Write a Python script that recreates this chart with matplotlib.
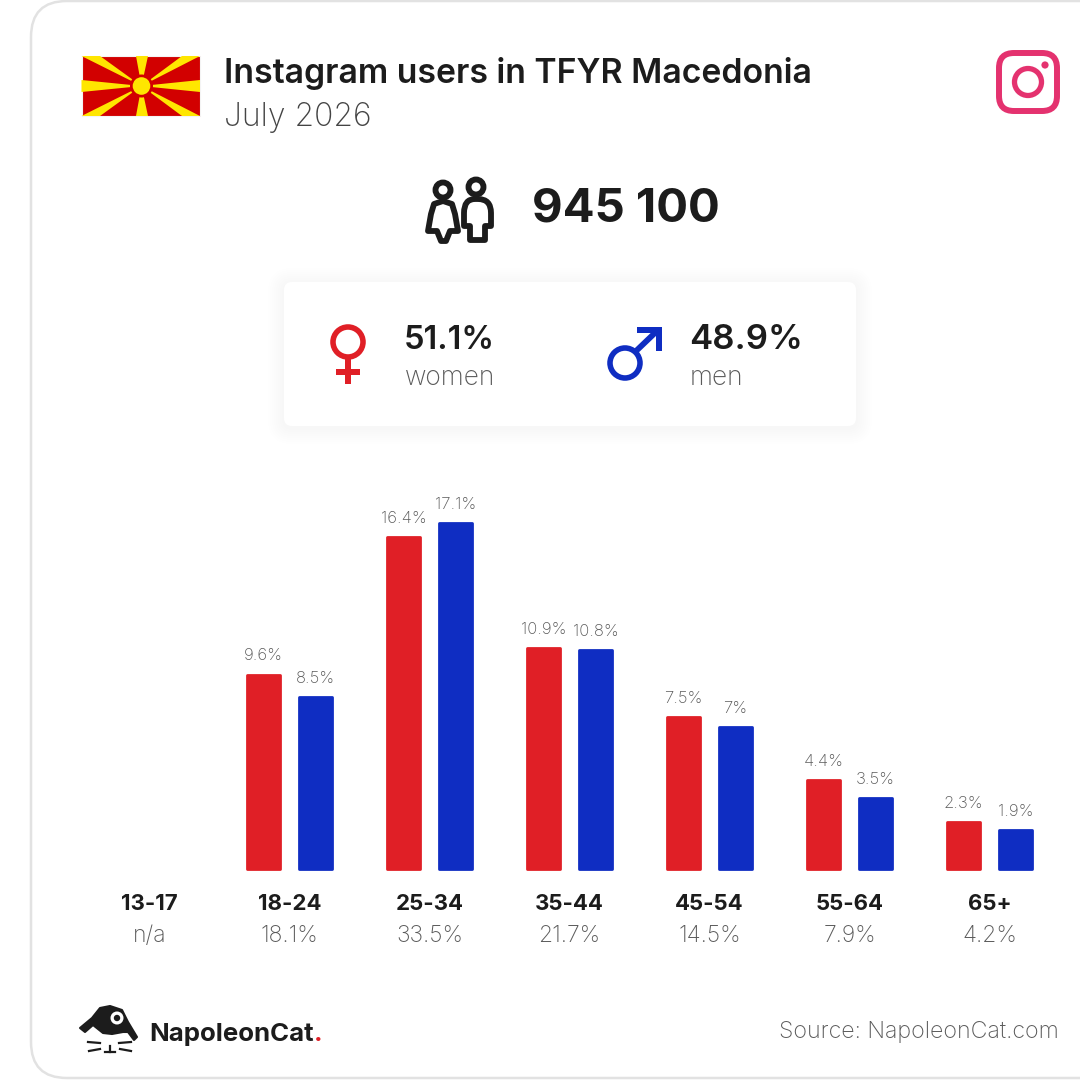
import matplotlib
matplotlib.use("Agg")
import matplotlib.pyplot as plt
import numpy as np
from matplotlib.patches import Circle, FancyBboxPatch, PathPatch, Polygon, Rectangle
from matplotlib.path import Path

age_groups = ['13-17', '18-24', '25-34', '35-44', '45-54', '55-64', '65+']
group_totals = ['n/a', '18.1%', '33.5%', '21.7%', '14.5%', '7.9%', '4.2%']
women = [0, 9.6, 16.4, 10.9, 7.5, 4.4, 2.3]
men = [0, 8.5, 17.1, 10.8, 7, 3.5, 1.9]
total_users = '945 100'
women_share = '51.1%'
men_share = '48.9%'

RED = '#e01f26'
BLUE = '#0f2dc2'
DARK = '#1c1c1c'
GREY = '#5a5a5a'
PINK = '#e4326f'
FONT = 'Inter'

plt.rcParams['font.family'] = [FONT, 'Lato', 'DejaVu Sans']

fig = plt.figure(figsize=(10.8, 10.8), dpi=100, facecolor='white')

# overlay in pixel coords for the card, icons and logos
bg = fig.add_axes([0, 0, 1, 1])
bg.set_xlim(0, 1080)
bg.set_ylim(1080, 0)
bg.axis('off')

# card
bg.add_patch(FancyBboxPatch((31, 1), 1200, 1077, boxstyle='round,pad=0,rounding_size=36',
                            fc='white', ec='#e2e2e2', lw=1.8))

# flag
bg.add_patch(Rectangle((81.5, 56), 118.5, 60, fc='#d20000', ec='#f4f4f4', lw=0.8))
fx, fy = 141.5, 86
rays = [[(81.5, 56), (100, 56), (fx, fy)], [(200, 56), (182, 56), (fx, fy)],
        [(81.5, 116), (100, 116), (fx, fy)], [(200, 116), (182, 116), (fx, fy)],
        [(136, 56), (148, 56), (fx, fy)], [(136, 116), (148, 116), (fx, fy)],
        [(81.5, 80), (81.5, 92), (fx, fy)], [(200, 80), (200, 92), (fx, fy)]]
for r in rays:
    bg.add_patch(Polygon(r, fc='#ffe600', ec='none'))
bg.add_patch(Circle((fx, fy), 11.5, fc='#d20000', ec='none'))
bg.add_patch(Circle((fx, fy), 8.8, fc='#ffe600', ec='none'))

# instagram icon
bg.add_patch(FancyBboxPatch((999, 53), 58, 58, boxstyle='round,pad=0,rounding_size=15',
                            fc='none', ec=PINK, lw=4.3))
bg.add_patch(Circle((1028, 82), 13.5, fc='none', ec=PINK, lw=3.8))
bg.add_patch(Circle((1045, 65), 3.6, fc=PINK, ec='none'))

# people icon
bg.add_patch(Circle((443, 190), 7.5, fc='none', ec=DARK, lw=4.2))
bg.add_patch(Circle((476, 187), 7.5, fc='none', ec=DARK, lw=4.2))
woman = [(443, 201), (434, 204), (431, 214), (428, 231), (437, 231), (441, 241), (446, 241),
         (450, 231), (458, 231), (455, 214), (452, 204), (443, 201)]
bg.add_patch(Polygon(woman, closed=True, fc='none', ec=DARK, lw=4.2, joinstyle='round'))
man_v = [(475, 199), (464, 199), (464, 213), (464, 226), (470, 226), (470, 240), (485, 240),
         (485, 226), (491, 226), (491, 213), (491, 199), (478, 199), (475, 199)]
man_c = [Path.MOVETO, Path.CURVE3, Path.CURVE3, Path.LINETO, Path.LINETO, Path.LINETO, Path.LINETO,
         Path.LINETO, Path.LINETO, Path.LINETO, Path.CURVE3, Path.CURVE3, Path.CLOSEPOLY]
bg.add_patch(PathPatch(Path(man_v, man_c), fc='none', ec=DARK, lw=4.2, joinstyle='round'))

# stat box with soft shadow
for pad, alpha in zip(range(32, 0, -2), np.linspace(0.0006, 0.0035, 16)):
    bg.add_patch(FancyBboxPatch((284 - pad, 284 - pad), 572 + 2 * pad, 144 + 2 * pad,
                                boxstyle=f'round,pad=0,rounding_size={8 + pad}',
                                fc='black', ec='none', alpha=alpha))
bg.add_patch(FancyBboxPatch((284, 282), 572, 144, boxstyle='round,pad=0,rounding_size=8',
                            fc='white', ec='none'))

# gender symbols
bg.add_patch(Circle((348, 342), 15, fc='none', ec=RED, lw=4))
bg.add_patch(Rectangle((345, 358), 6, 26, fc=RED, ec='none'))
bg.add_patch(Rectangle((336, 369), 24, 6, fc=RED, ec='none'))
bg.add_patch(Circle((625, 363), 15, fc='none', ec=BLUE, lw=4))
bg.plot([635, 658], [352, 330], color=BLUE, lw=4.2, solid_capstyle='butt')
bg.add_patch(Polygon([(637, 327), (662, 327), (662, 351), (656, 351), (656, 333), (637, 333)],
                     fc=BLUE, ec='none'))

# cat logo
hat = [(80, 1028), (92, 1018), (100, 1008), (110, 1006), (122, 1010), (128, 1022), (137, 1037),
       (134, 1040), (128, 1032), (123, 1032), (112, 1034), (103, 1033), (93, 1025), (85, 1032)]
bg.add_patch(Polygon(hat, fc=DARK, ec=DARK, lw=1.5, joinstyle='round'))
bg.add_patch(Circle((117, 1018), 6.5, fc='white', ec='none'))
bg.add_patch(Circle((117, 1018), 3.2, fc=DARK, ec='none'))
whiskers = [((88, 1042), (100, 1043)), ((89, 1051), (100, 1049)), ((119, 1043), (131, 1042)),
            ((120, 1049), (131, 1051)), ((105, 1052), (115, 1052)), ((110, 1046), (110, 1052))]
for a, b in whiskers:
    bg.plot([a[0], b[0]], [a[1], b[1]], color=DARK, lw=1.6)

# bars, in data units: percent on y, age group on x
px_per_pct = 20.2
px_per_group = 140
base_px = 868.5
ax = fig.add_axes([0, 0, 1, 1])
ax.patch.set_alpha(0)
ax.set_xlim(-149.5 / px_per_group, (1080 - 149.5) / px_per_group)
ax.set_ylim(-(1080 - base_px) / px_per_pct, base_px / px_per_pct)
ax.axis('off')

x = np.arange(len(age_groups))
width = 33 / px_per_group
offset = 26 / px_per_group
rects1 = ax.bar(x[1:] - offset, women[1:], width, color=RED, edgecolor=RED,
                linewidth=2, joinstyle='round')
rects2 = ax.bar(x[1:] + offset, men[1:], width, color=BLUE, edgecolor=BLUE,
                linewidth=2, joinstyle='round')
ax.bar_label(rects1, fmt='%g%%', padding=8, fontsize=12, color=GREY, fontweight='light')
ax.bar_label(rects2, fmt='%g%%', padding=8, fontsize=12, color=GREY, fontweight='light')

for i, (name, share) in enumerate(zip(age_groups, group_totals)):
    ax.text(i, -(904 - base_px) / px_per_pct, name, ha='center', va='center', fontsize=16,
            fontweight='bold', color=DARK)
    ax.text(i, -(936 - base_px) / px_per_pct, share, ha='center', va='center', fontsize=16.5,
            fontweight='light', color=GREY)

# texts
bg.text(224, 83, 'Instagram users in TFYR Macedonia', fontsize=24.3, fontweight='semibold',
        color=DARK, va='baseline')
bg.text(224, 126, 'July 2026', fontsize=23, fontweight='light', color='#444444', va='baseline')
bg.text(532, 222, total_users, fontsize=34, fontweight='bold', color=DARK, va='baseline')
bg.text(404, 349, women_share, fontsize=23.5, fontweight='semibold', color=DARK, va='baseline')
bg.text(405, 385, 'women', fontsize=19, fontweight='light', color=GREY, va='baseline')
bg.text(689, 349, men_share, fontsize=25, fontweight='semibold', color=DARK, va='baseline')
bg.text(690, 385, 'men', fontsize=19, fontweight='light', color=GREY, va='baseline')
bg.text(1059, 1038, 'Source: NapoleonCat.com', fontsize=16.7, fontweight='light', color=GREY,
        ha='right', va='baseline')
bg.text(149, 1041, 'NapoleonCat', fontsize=18.6, fontweight='bold', color=DARK, va='baseline')
bg.text(314, 1041, '.', fontsize=18.6, fontweight='bold', color=RED, va='baseline')

fig.savefig('out.png', dpi=100)
